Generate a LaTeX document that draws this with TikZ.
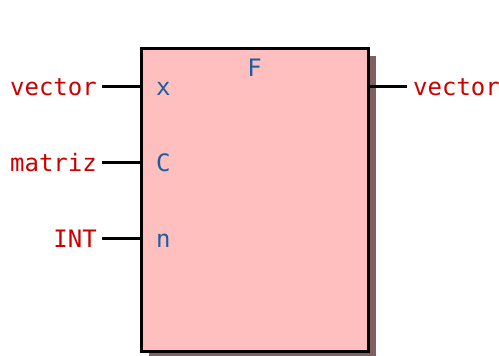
\documentclass[tikz,border=0pt]{standalone}
\usepackage{fontspec}
\setmonofont{DejaVu Sans Mono}
\definecolor{lblred}{RGB}{204,0,0}
\definecolor{lblblue}{RGB}{26,95,160}
\definecolor{boxfill}{RGB}{255,191,191}
\definecolor{shadowc}{RGB}{128,96,96}
\begin{document}
\begin{tikzpicture}[x=1pt,y=-1pt,
  wire/.style={line width=3pt},
  typelbl/.style={text=lblred,font=\ttfamily\fontsize{24}{29}\selectfont,inner sep=0pt},
  portlbl/.style={text=lblblue,font=\ttfamily\fontsize{24}{29}\selectfont,inner sep=0pt,anchor=base west}]
\useasboundingbox (0,0) rectangle (499,356);
\fill[shadowc] (149,56) rectangle (376,359);
\draw[line width=3pt,fill=boxfill] (141,48) rectangle (368,351);
\coordinate (bx) at (141,86);
\coordinate (bc) at (141,162);
\coordinate (bn) at (141,238);
\coordinate (bo) at (368,86);
\coordinate (lx) at (102,86);
\coordinate (lc) at (102,162);
\coordinate (ln) at (102,238);
\coordinate (ro) at (407,86);
\draw[wire] (lx) -- (bx);
\draw[wire] (lc) -- (bc);
\draw[wire] (ln) -- (bn);
\draw[wire] (bo) -- (ro);
\node[typelbl,anchor=base east] (tv) at (97,95) {vector};
\node[typelbl,anchor=base east] (tm) at (97,171) {matriz};
\node[typelbl,anchor=base east] (ti) at (97,247) {INT};
\node[typelbl,anchor=base west] (to) at (413,95) {vector};
\node[portlbl] (px) at (156,95) {x};
\node[portlbl] (pc) at (156,171) {C};
\node[portlbl] (pn) at (156,247) {n};
\node[portlbl,anchor=base] (pf) at (254.5,76) {F};
\end{tikzpicture}
\end{document}
